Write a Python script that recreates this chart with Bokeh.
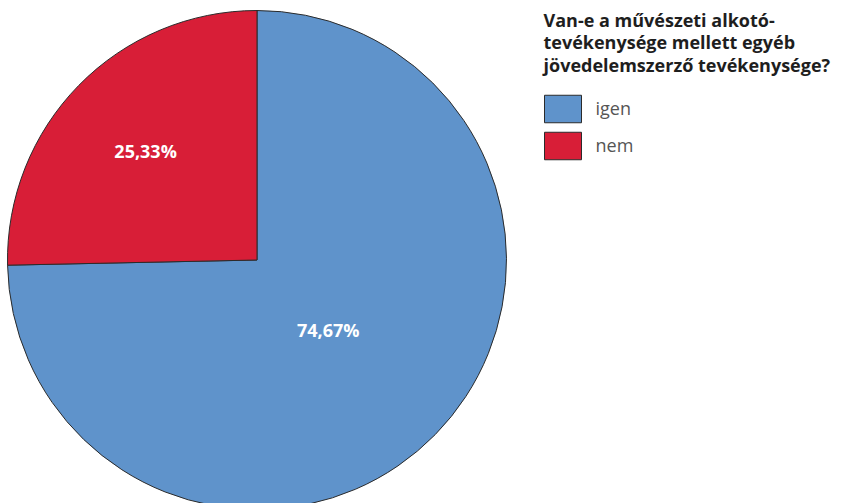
import math
from bokeh.plotting import figure
from bokeh.models import Range1d, ColumnDataSource
from bokeh.core.properties import value
from bokeh.embed import file_html
from bokeh.resources import INLINE

# ---- data ----
categories = ["igen", "nem"]
percents = [74.67, 25.33]
colors = ["#5F93CB", "#D81E37"]
title_lines = ["Van-e a művészeti alkotó-",
               "tevékenysége mellett egyéb",
               "jövedelemszerző tevékenysége?"]

W, H = 846, 503
p = figure(width=W, height=H, output_backend="svg", toolbar_location=None,
           x_range=Range1d(0, W), y_range=Range1d(-H, 0),
           min_border=0, outline_line_color=None)
p.axis.visible = False
p.grid.visible = False
p.background_fill_color = "white"
p.border_fill_color = "white"

cx, cy, r = 256.5, -259.5, 249.5

# wedges: start at top, igen clockwise, nem counter-clockwise from top
total = sum(percents)
nem_frac = percents[1] / total
a_top = math.pi / 2
a_split = a_top + nem_frac * 2 * math.pi
starts = [a_split, a_top]
ends = [a_top + 2 * math.pi, a_split]
src = ColumnDataSource(dict(cat=categories, pct=percents, color=colors,
                            start=starts, end=ends))
p.wedge(x=cx, y=cy, radius=r, start_angle="start", end_angle="end",
        direction="anticlock", fill_color="color", line_color="#2b2b2b",
        line_width=1, source=src)

# slice labels
label_fac = [0.40, 0.625]
lx, ly, lt = [], [], []
for s, e, f, v in zip(starts, ends, label_fac, percents):
    mid = (s + e) / 2
    lx.append(cx + f * r * math.cos(mid))
    ly.append(cy + f * r * math.sin(mid))
    lt.append(f"{v:.2f}".replace(".", ",") + "%")
p.text(x=lx, y=ly, text=lt, text_color="white", text_font=value("Open Sans"),
       text_font_size="18px", text_font_style="bold",
       text_align="center", text_baseline="middle")

# legend title
tx = 543
p.text(x=[tx] * 3, y=[-19, -41.5, -64], text=title_lines, text_color="#1e1e1e",
       text_font=value("Open Sans"), text_font_size="18px",
       text_font_style="bold", text_align="left", text_baseline="alphabetic")

# legend items
item_y = [-108.5, -145.5]
p.rect(x=[562.5] * 2, y=item_y, width=37, height=27.5, fill_color=colors,
       line_color="#2b2b2b", line_width=1)
p.text(x=[595] * 2, y=[-107.5, -144.5], text=categories, text_color="#555555",
       text_font=value("Open Sans"), text_font_size="18px",
       text_align="left", text_baseline="alphabetic")

open("out.html", "w").write(file_html(p, INLINE))
